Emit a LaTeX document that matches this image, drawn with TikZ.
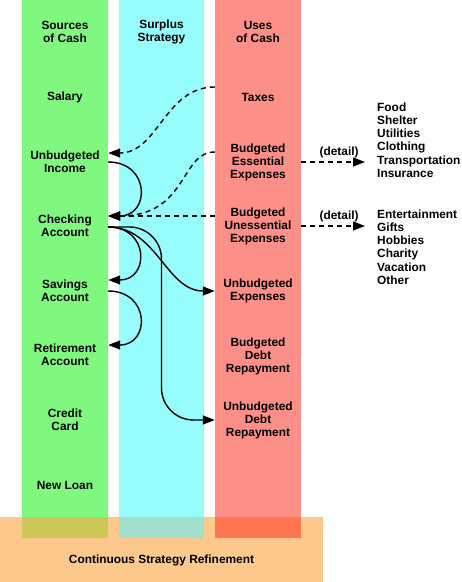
\documentclass[tikz,border=0pt]{standalone}
\usepackage{fontspec}
\setmainfont{Liberation Sans}
\usetikzlibrary{arrows.meta, calc}
\definecolor{srcgreen}{RGB}{128,248,128}
\definecolor{stratcyan}{RGB}{150,252,252}
\definecolor{usered}{RGB}{252,144,136}
\definecolor{refine}{RGB}{252,200,140}
\definecolor{srcmix}{RGB}{206,198,86}
\definecolor{stratmix}{RGB}{163,224,204}
\definecolor{usemix}{RGB}{255,118,80}

\begin{document}
\begin{tikzpicture}[x=1pt, y=-1pt,
  lbl/.style={align=center, font=\bfseries\fontsize{11.9}{13}\selectfont,
              minimum width=86pt, inner sep=0pt},
  lst/.style={align=left, font=\bfseries\fontsize{11.9}{13.2}\selectfont,
              anchor=west, inner sep=0pt},
  flow/.style={-{Triangle[length=12pt,width=9pt]}, line width=1.4pt},
  dflow/.style={flow, dash pattern=on 5pt off 4pt}
]
\useasboundingbox (0,0) rectangle (462,582);
% columns and band
\fill[srcgreen]   (22,0)  rectangle (108,538);
\fill[stratcyan]  (119,0) rectangle (204,538);
\fill[usered]     (215,0) rectangle (301,538);
\fill[refine]     (0,517) rectangle (323,582);
\fill[srcmix]     (22,517)  rectangle (108,538);
\fill[stratmix]   (119,517) rectangle (204,538);
\fill[usemix]     (215,517) rectangle (301,538);

% sources
\node[lbl] (src) at (65,32)  {Sources\\of Cash};
\node[lbl] (sal) at (65,97)  {Salary};
\node[lbl] (inc) at (65,162) {Unbudgeted\\Income};
\node[lbl] (chk) at (65,226) {Checking\\Account};
\node[lbl] (sav) at (65,291) {Savings\\Account};
\node[lbl] (ret) at (65,355) {Retirement\\Account};
\node[lbl] (cc)  at (65,420) {Credit\\Card};
\node[lbl] (loan) at (65,485) {New Loan};
% strategy
\node[lbl] (strat) at (161.5,32) {Surplus\\Strategy};
% uses
\node[lbl] (uses) at (258,32)  {Uses\\of Cash};
\node[lbl] (tax)  at (258,97)  {Taxes};
\node[lbl] (bee)  at (258,162) {Budgeted\\Essential\\Expenses};
\node[lbl] (bue)  at (258,226) {Budgeted\\Unessential\\Expenses};
\node[lbl] (ue)   at (258,291) {Unbudgeted\\Expenses};
\node[lbl] (bdr)  at (258,356) {Budgeted\\Debt\\Repayment};
\node[lbl] (udr)  at (258,420) {Unbudgeted\\Debt\\Repayment};
% details
\node[lst] (ess) at (377,140) {Food\\Shelter\\Utilities\\Clothing\\Transportation\\Insurance};
\node[lst] (uness) at (377,247) {Entertainment\\Gifts\\Hobbies\\Charity\\Vacation\\Other};
\node[lbl] (ref) at (161.5,560) {Continuous Strategy Refinement};

% flows
\draw[dflow] ([yshift=10pt]tax.west) .. controls +(-50,0) and +(50,0) .. ([yshift=9pt]inc.east);
\draw[dflow] ([yshift=10pt]bee.west) .. controls +(-35,0) and +(80,0) .. ([yshift=10pt]chk.east);
\draw[dflow] ([yshift=10pt]bue.west) -- ([yshift=10pt]chk.east);
\draw[flow] (inc.east) to[out=0,in=0,looseness=2] ([yshift=10pt]chk.east);
\draw[flow] ([yshift=-1pt]chk.east) to[out=0,in=0,looseness=2] ([yshift=11pt]sav.east);
\draw[flow] (sav.east) to[out=0,in=0,looseness=2] ([yshift=10pt]ret.east);
\draw[flow] ([yshift=-1pt]chk.east) to[out=0,in=180] (ue.west);
\draw[flow, rounded corners=32pt] ([yshift=-1pt]chk.east)
  -| ($(chk.east)!0.5!(udr.west)$) |- (udr.west);
\draw[dflow, shorten >=12pt] (bee.east) -- (bee.east -| ess.west)
  node[midway, above, font=\bfseries\fontsize{11.9}{13}\selectfont] {(detail)};
\draw[dflow, shorten >=12pt] (bue.east) -- (bue.east -| uness.west)
  node[midway, above, font=\bfseries\fontsize{11.9}{13}\selectfont] {(detail)};
\end{tikzpicture}
\end{document}
